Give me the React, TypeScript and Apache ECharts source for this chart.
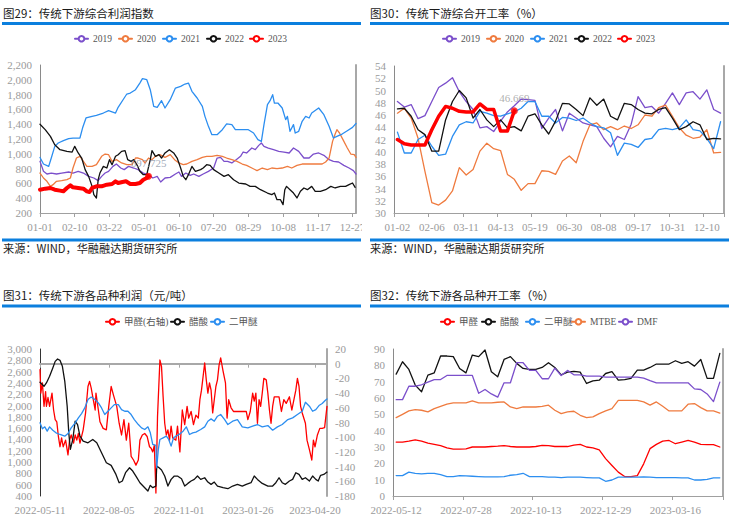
import React, { useEffect, useRef } from "react";
import * as echarts from "echarts";

// ---------------- colours / fonts ----------------
const PURPLE = "#7B4FCB";
const ORANGE = "#EF7B3F";
const BLUE = "#2C8EF0";
const BLACK = "#111111";
const RED = "#FF0000";
const RULE_BLUE = "#0B7FDE";
const LABEL_GRAY = "#9a9a9a";
const FONT_SERIF = "'Liberation Serif', 'Noto Sans CJK SC', serif";
const FONT_SANS = "'Noto Sans CJK SC', 'Noto Sans', sans-serif";

// ---------------- panel 1: 传统下游综合利润指数 (day-of-year, value) ----------------
const YEARS = ["2019", "2020", "2021", "2022", "2023"];
const P1_2019: [number, number][] = [[0,898],[4,763],[8,727],[13,740],[19,727],[25,740],[33,754],[38,740],[44,763],[50,740],[56,695],[62,673],[67,637],[71,695],[75,740],[79,763],[84,830],[88,862],[93,808],[97,786],[102,830],[108,808],[113,786],[119,740],[125,718],[130,673],[135,695],[139,619],[144,673],[150,682],[156,727],[160,754],[163,695],[168,740],[173,709],[177,727],[183,695],[188,727],[194,763],[200,808],[204,943],[208,952],[212,898],[216,898],[221,876],[226,921],[231,966],[234,1024],[238,1011],[244,1078],[248,1056],[252,1114],[255,1146],[258,1101],[263,1078],[269,1056],[275,1033],[281,1024],[287,1011],[292,1078],[298,1033],[304,943],[310,943],[315,997],[321,1011],[327,979],[333,921],[338,898],[344,889],[350,844],[356,808],[361,772],[364,727]];
const P1_2020: [number, number][] = [[0,740],[4,673],[8,628],[12,560],[15,583],[19,628],[25,637],[31,650],[35,673],[38,808],[42,943],[46,966],[50,898],[54,830],[60,830],[65,853],[71,966],[75,997],[79,988],[83,898],[88,921],[94,876],[100,853],[106,853],[110,943],[113,943],[118,921],[121,876],[125,943],[129,921],[133,966],[138,988],[144,952],[150,988],[155,921],[160,876],[165,853],[169,862],[175,898],[181,921],[187,952],[192,966],[198,966],[204,979],[210,966],[215,943],[221,921],[227,898],[233,862],[238,844],[244,808],[250,772],[256,808],[262,786],[267,808],[273,799],[279,808],[285,830],[290,808],[296,844],[302,862],[308,862],[313,862],[319,862],[325,862],[329,889],[333,943],[337,1168],[340,1267],[342,1326],[345,1281],[349,1191],[354,1078],[358,997],[362,988],[364,952]];
const P1_2021: [number, number][] = [[0,950],[4,862],[10,830],[13,943],[17,1100],[21,1146],[27,1177],[33,1204],[38,1213],[46,1213],[49,1348],[53,1484],[60,1506],[65,1520],[73,1551],[79,1583],[87,1551],[90,1628],[97,1754],[100,1808],[104,1821],[110,1866],[115,1956],[118,2015],[123,2001],[127,1866],[131,1641],[135,1628],[140,1718],[144,1619],[150,1731],[156,1889],[162,1911],[167,1943],[171,1956],[175,1844],[181,1754],[187,1641],[190,1506],[194,1371],[198,1258],[204,1258],[210,1326],[215,1403],[221,1394],[225,1326],[233,1326],[240,1326],[246,1281],[251,1191],[255,1168],[258,1394],[262,1664],[265,1718],[268,1799],[270,1686],[274,1686],[279,1619],[283,1461],[285,1506],[288,1304],[292,1394],[294,1281],[298,1304],[302,1439],[306,1506],[310,1484],[313,1551],[321,1619],[327,1529],[333,1371],[338,1213],[342,1236],[348,1267],[354,1312],[360,1357],[364,1410]];
const P1_2022: [number, number][] = [[0,1400],[6,1326],[12,1236],[17,1123],[23,1056],[31,1033],[37,1024],[40,1101],[44,1011],[48,943],[52,786],[56,695],[60,560],[62,448],[65,403],[67,650],[69,740],[73,830],[77,808],[80,921],[83,853],[87,966],[90,988],[94,1033],[98,1042],[101,921],[105,898],[108,921],[112,844],[115,763],[119,718],[123,718],[127,921],[129,1042],[133,966],[137,988],[140,943],[144,1011],[149,1056],[154,1011],[158,943],[162,808],[165,695],[168,650],[171,718],[175,830],[179,763],[185,786],[188,808],[192,853],[196,844],[200,786],[206,740],[212,695],[217,718],[223,650],[229,605],[237,592],[242,560],[248,560],[254,515],[262,470],[267,448],[270,470],[273,380],[277,380],[280,313],[282,515],[284,560],[288,515],[292,470],[296,403],[300,493],[304,538],[308,515],[313,560],[317,493],[323,493],[329,515],[335,560],[340,538],[346,560],[352,560],[356,583],[360,605],[363,547]];
const P1_2023: [number, number][] = [[0,515],[6,529],[12,538],[17,515],[23,502],[27,493],[31,538],[35,574],[38,547],[44,538],[50,529],[54,493],[57,484],[60,538],[65,560],[71,560],[77,583],[83,592],[87,628],[90,605],[95,619],[99,628],[104,592],[110,592],[115,605],[119,650],[123,673],[125,697.725]];

// ---------------- panel 2: 传统下游综合开工率 (weekly) ----------------
const P2_WEEKS = ["01-02","01-09","01-16","01-23","01-30","02-06","02-13","02-20","02-27","03-04","03-11","03-18","03-25","04-01","04-08","04-13","04-20","04-27","05-06","05-12","05-19","05-26","06-02","06-09","06-16","06-30","07-07","07-14","07-21","07-28","08-08","08-15","08-22","08-29","09-05","09-17","09-24","10-01","10-15","10-24","10-31","11-07","11-14","11-21","11-28","12-10","12-17","12-24"];
const P2_2019 = [48.2,47.3,47.7,45.4,45.9,48.2,50.5,51.2,52.1,49.8,48.2,46.9,43.9,44.1,43.3,45.0,46.5,47.5,48.6,48.5,48.4,43.8,45.5,46.9,43.4,46.3,45.5,44.7,44.4,44.1,42.2,40.8,42.5,42.0,44.5,49.0,47.2,47.4,46.3,47.9,49.6,47.7,49.6,49.8,48.6,50.1,46.9,46.3];
const P2_2020 = [46.3,47.1,45.5,42.2,36.8,31.7,31.3,32.1,33.6,37.4,36.2,37.1,40.1,41.4,40.5,40.2,36.3,35.5,33.7,34.8,34.8,36.9,36.8,36.3,38.5,39.3,38.2,41.7,44.4,44.7,43.6,44.1,43.6,44.2,43.8,44.4,46.0,45.8,47.2,47.6,45.8,43.9,42.7,42.2,42.4,43.6,39.8,39.9];
const P2_2021 = [43.2,39.8,39.8,42.0,42.7,40.9,39.4,39.6,42.5,44.4,44.9,44.7,46.6,46.3,45.9,45.8,46.2,46.5,47.1,48.2,48.2,45.8,45.8,44.7,45.6,45.5,45.1,45.5,44.7,44.1,43.9,43.1,39.4,41.4,41.2,40.7,42.0,42.2,43.6,43.8,43.6,43.9,45.2,43.6,43.4,42.2,40.5,44.9];
const P2_2022 = [47.0,47.1,45.8,43.6,42.8,40.1,40.1,45.2,48.2,50.0,48.8,45.5,46.9,45.2,44.1,45.2,43.9,44.1,43.4,45.8,46.2,44.4,42.9,45.0,47.9,47.8,46.9,45.9,48.8,47.6,48.6,45.8,45.2,47.9,47.7,46.9,46.3,46.2,46.9,47.2,45.5,43.6,44.1,44.9,44.4,42.0,42.2,42.1];
const P2_2023 = [42.0,41.3,41.1,41.1,41.1,43.6,45.8,47.4,47.1,46.6,46.5,46.5,47.8,46.9,46.9,43.4,43.4,46.669];

// ---------------- panel 3: 传统下游各品种利润 (day index from 2022-05-11) ----------------
const P3_TICK_LABELS = ["2022-05-11","2022-08-05","2022-11-01","2023-01-26","2023-04-20"];
const P3_HCHO: [number, number][] = [[0,-8],[1,-40],[3,-26],[5,-58],[7,-38],[8,-58],[10,-46],[12,-58],[15,-40],[17,-63],[19,-76],[21,-79],[23,-99],[25,-113],[27,-101],[29,-113],[32,-104],[35,-124],[37,-104],[39,-97],[42,-108],[44,-97],[46,-104],[48,-95],[50,-108],[54,-90],[57,-67],[60,-31],[62,-24],[64,-33],[66,-45],[69,-63],[70,-40],[73,-63],[75,-79],[79,-88],[83,-90],[86,-58],[89,-31],[92,-43],[96,-58],[99,-81],[102,-97],[105,-76],[108,-104],[111,-81],[114,-126],[117,-131],[120,-138],[123,-131],[125,-104],[128,-97],[131,-95],[134,-99],[137,-113],[139,-115],[141,-120],[143,-111],[145,-176],[147,-72],[150,5],[152,-4],[154,-45],[156,-81],[158,-97],[160,-90],[162,-104],[164,-85],[166,-101],[170,-104],[172,-85],[175,-120],[178,-63],[181,-83],[184,-58],[186,-74],[189,-65],[192,-83],[195,-70],[198,-74],[200,-49],[202,-36],[206,1],[208,-22],[210,-40],[212,-26],[214,-36],[216,-67],[218,-49],[220,-31],[222,-22],[224,-2],[226,8],[229,-10],[232,-26],[234,-74],[236,-49],[239,-60],[242,-65],[245,-65],[249,-65],[253,-65],[258,-65],[260,-76],[263,-65],[266,-40],[268,-51],[270,-40],[272,-81],[274,-49],[276,-58],[278,-40],[280,-20],[283,-22],[285,-40],[287,-63],[289,-81],[291,-58],[293,-45],[295,-45],[299,-45],[302,-65],[305,-49],[308,-54],[312,-45],[315,-63],[318,-47],[320,-36],[322,-20],[324,-31],[326,-58],[328,-67],[332,-81],[334,-104],[337,-117],[340,-131],[342,-104],[344,-113],[347,-97],[350,-88],[353,-88],[356,-87],[359,-58]];
const P3_ACOH: [number, number][] = [[0,2411],[5,2340],[8,2399],[12,2517],[16,2664],[19,2781],[22,2823],[25,2799],[28,2693],[31,2429],[34,1988],[36,1517],[38,1223],[41,1400],[44,1723],[47,1664],[50,1458],[54,1370],[60,1341],[66,1400],[71,1341],[77,1164],[83,988],[89,941],[95,782],[99,635],[103,665],[107,812],[112,900],[116,841],[120,753],[125,635],[131,547],[135,488],[138,588],[141,547],[145,576],[146,929],[149,900],[152,859],[156,753],[160,576],[164,694],[168,753],[172,753],[177,706],[181,576],[185,623],[189,665],[193,694],[197,753],[201,694],[206,723],[210,647],[214,606],[218,647],[222,576],[229,547],[235,529],[241,576],[247,606],[253,576],[258,606],[264,635],[268,753],[272,694],[278,623],[285,576],[291,576],[295,635],[299,723],[303,635],[307,606],[312,665],[316,694],[320,812],[324,782],[328,694],[332,723],[337,665],[341,753],[345,694],[348,665],[351,765],[355,782],[359,823]];
const P3_DME: [number, number][] = [[0,1694],[3,1588],[6,1623],[9,1547],[12,1623],[16,1564],[20,1517],[25,1488],[31,1458],[35,1505],[39,1605],[44,1694],[48,1782],[52,1858],[56,1958],[60,2105],[64,2150],[69,2105],[73,2046],[77,1958],[81,1841],[85,1899],[89,1958],[93,2017],[98,2017],[102,1929],[106,1899],[110,1899],[114,1841],[118,1752],[123,1664],[127,1605],[131,1576],[135,1623],[138,1517],[141,1311],[145,1294],[146,900],[148,1223],[150,1400],[154,1429],[158,1458],[161,1400],[164,1282],[167,1429],[170,1458],[174,1488],[179,1547],[183,1623],[187,1488],[191,1517],[195,1529],[201,1576],[206,1623],[210,1723],[214,1764],[218,1723],[222,1811],[226,1841],[231,1752],[235,1664],[241,1723],[247,1752],[253,1623],[260,1605],[266,1635],[272,1664],[278,1623],[285,1646],[291,1564],[297,1623],[303,1664],[310,1752],[316,1782],[322,1841],[328,1899],[332,2058],[337,1988],[341,1899],[345,1929],[349,2000],[353,2035],[357,2093],[359,2117]];

// ---------------- panel 4: 传统下游各品种开工率 (weekly from 2022-05-12) ----------------
const P4_HCHO = [33.0,33.0,33.6,34.4,33.6,32.4,31.6,30.8,29.5,28.7,28.7,28.9,30.0,30.0,30.0,30.3,30.5,30.8,30.3,30.0,30.0,30.0,30.3,31.0,30.8,30.3,30.3,30.3,31.2,31.6,30.0,29.5,28.3,22.9,18.7,14.6,11.9,11.9,12.5,19.7,29.0,31.6,33.6,34.0,32.0,33.0,34.0,33.0,31.6,31.4,31.4,30.0];
const P4_ACOH = [74.6,82.2,77.5,67.9,63.8,74.0,75.4,85.7,85.7,85.3,78.1,75.4,86.3,85.3,89.4,76.1,73.0,83.6,85.3,81.2,78.1,77.5,77.5,78.7,81.6,78.7,74.2,75.8,76.3,75.8,68.9,70.5,70.9,75.0,76.1,70.9,71.3,72.0,77.1,77.1,78.7,80.8,80.8,80.8,82.8,81.2,82.2,79.5,83.6,72.0,72.0,87.3];
const P4_DME = [12.5,12.5,14.6,13.9,13.5,13.9,13.9,13.1,11.9,11.9,12.5,12.3,12.1,11.9,11.7,11.7,11.7,11.9,12.7,13.1,13.9,11.9,11.9,11.9,11.5,11.5,11.3,11.5,11.5,11.5,11.3,11.1,11.1,9.0,9.8,11.5,11.5,11.5,11.5,11.7,11.5,11.3,11.3,11.3,11.3,11.1,11.1,9.8,9.8,10.2,11.1,11.1];
const P4_MTBE = [48.0,50.0,52.1,52.9,52.5,51.5,53.5,54.9,56.2,57.0,57.0,57.0,58.2,57.0,57.0,57.0,57.4,57.6,54.5,53.5,54.5,54.5,54.5,54.9,55.6,52.5,50.4,51.5,51.9,49.4,48.0,48.4,50.4,52.1,53.5,58.6,58.6,58.6,58.6,57.6,55.6,57.6,54.9,52.1,52.1,52.1,56.2,56.6,54.1,52.1,52.1,50.8];
const P4_DMF = [59.0,59.0,67.2,67.2,68.1,69.7,71.3,71.3,73.8,73.8,73.8,73.8,73.8,62.9,65.2,62.5,60.5,69.3,69.3,81.6,81.6,76.9,76.9,71.8,71.8,78.3,73.8,76.9,74.2,74.2,73.4,73.4,73.4,72.8,72.8,72.8,72.8,72.8,72.8,72.2,70.7,69.3,69.3,69.3,69.3,69.3,69.3,65.6,65.2,62.5,57.8,69.7];

// legend entries: name and where its icon starts
const LEG1 = YEARS;
const LEG1_X = [74, 118, 162, 206, 249];
const LEG2_X = [442, 486, 530, 574, 617];
const LEG3 = ["甲醛(右轴)", "醋酸", "二甲醚"];
const LEG3_X = [105, 170, 210];
const LEG4 = ["甲醛", "醋酸", "二甲醚", "MTBE", "DMF"];
const LEG4_X = [440, 481, 525, 571, 618];

// ---------------- helpers ----------------
const pad = (n: number) => (n < 10 ? "0" + n : "" + n);
function dateList(y: number, m: number, d: number, count: number, step: number, withYear: boolean) {
  const out: string[] = [];
  const t = new Date(Date.UTC(y, m - 1, d));
  for (let i = 0; i < count; i++) {
    out.push((withYear ? t.getUTCFullYear() + "-" : "") + pad(t.getUTCMonth() + 1) + "-" + pad(t.getUTCDate()));
    t.setUTCDate(t.getUTCDate() + step);
  }
  return out;
}
const P1_DAYS = dateList(2021, 1, 1, 365, 1, false);
const P3_DAYS = dateList(2022, 5, 11, 360, 1, true);
const P4_WEEKS = dateList(2022, 5, 12, 52, 7, true);

const thousands = (v: number) => v.toLocaleString("en-US");

function line(name: string, data: any[], color: string, xi: number, yi: number, width = 1.3, z = 2) {
  return {
    type: "line", name, data, xAxisIndex: xi, yAxisIndex: yi,
    symbol: "emptyCircle", symbolSize: 5, showSymbol: false,
    lineStyle: { color, width, cap: "round", join: "round" }, itemStyle: { color },
    emphasis: { disabled: true }, z, animation: false,
  };
}
function endPoint(point: [number, number], xi: number, yi: number, labelColor: string) {
  return {
    type: "scatter", data: [point], xAxisIndex: xi, yAxisIndex: yi, symbolSize: 7, z: 6,
    itemStyle: { color: RED }, emphasis: { disabled: true }, animation: false,
    label: { show: true, position: "top", distance: 4, color: labelColor, fontSize: 11, fontFamily: FONT_SERIF,
      formatter: (p: any) => String(p.value[1]) },
  };
}
const axisLabel = (extra: any = {}) => ({ color: LABEL_GRAY, fontSize: 11, fontFamily: FONT_SERIF, margin: 8, ...extra });
function leftY(gi: number, min: number, max: number, interval: number, lineColor: string, fmt?: (v: number) => string) {
  return {
    type: "value", gridIndex: gi, position: "left", min, max, interval,
    axisLine: { show: true, lineStyle: { color: lineColor, width: 1 } },
    axisTick: { show: false }, splitLine: { show: false },
    axisLabel: axisLabel(fmt ? { formatter: fmt } : {}),
  };
}
function rightBorder(gi: number, min: number, max: number) {
  return {
    type: "value", gridIndex: gi, position: "right", min, max,
    axisLine: { show: true, lineStyle: { color: "#a8a8a8", width: 2 } },
    axisTick: { show: false }, splitLine: { show: false }, axisLabel: { show: false },
  };
}
function legendItems(names: string[], xs: number[], top: number) {
  return names.map((n, i) => ({
    data: [n], left: xs[i], top, orient: "horizontal", itemWidth: 13, itemHeight: 7, padding: 0,
    selectedMode: false, textStyle: { fontSize: 9.5, color: "#555", fontFamily: FONT_SERIF },
    lineStyle: { width: 2 },
  }));
}
const txt = (text: string, x: number, y: number, size: number, color = "#1a1a1a") => ({
  type: "text", x, y, z: 50,
  style: { text, fill: color, font: `normal ${size}px ${FONT_SANS}`, verticalAlign: "middle", align: "left" },
});
const rule = (x: number, y: number, w: number) => ({
  type: "rect", z: 50, shape: { x, y, width: w, height: 3 }, style: { fill: RULE_BLUE },
});

export default function App() {
  const ref = useRef<HTMLDivElement>(null);
  useEffect(() => {
    if (!ref.current) return;
    const chart = echarts.init(ref.current, undefined, { renderer: "svg" });
    const p3Interval = (_i: number, v: string) => P3_TICK_LABELS.indexOf(v) >= 0;
    const option: any = {
      animation: false,
      backgroundColor: "#ffffff",
      textStyle: { fontFamily: FONT_SERIF },
      grid: [
        { left: 40, top: 65, width: 316, height: 148, outerBoundsMode: "none" },
        { left: 394, top: 66, width: 330, height: 147, outerBoundsMode: "none" },
        { left: 40, top: 349, width: 287, height: 147, outerBoundsMode: "none" },
        { left: 393, top: 349, width: 330, height: 147, outerBoundsMode: "none" },
      ],
      xAxis: [
        { type: "category", gridIndex: 0, data: P1_DAYS, boundaryGap: false, position: "bottom",
          axisLine: { show: true, onZero: false, lineStyle: { color: "#a0a0a0", width: 1 } },
          axisTick: { show: true, interval: 39, length: 4, lineStyle: { color: "#a0a0a0" } },
          axisLabel: axisLabel({ interval: 39 }), splitLine: { show: false } },
        { type: "category", gridIndex: 1, data: P2_WEEKS, boundaryGap: true, position: "bottom",
          axisLine: { show: true, onZero: false, lineStyle: { color: "#a0a0a0", width: 1 } },
          axisTick: { show: true, interval: 4, length: 4, lineStyle: { color: "#a0a0a0" } },
          axisLabel: axisLabel({ interval: 4 }), splitLine: { show: false } },
        { type: "category", gridIndex: 2, data: P3_DAYS, boundaryGap: false, position: "bottom",
          axisLine: { show: false, onZero: false }, axisTick: { show: false },
          axisLabel: axisLabel({ interval: p3Interval }), splitLine: { show: false } },
        { type: "category", gridIndex: 2, data: P3_DAYS, boundaryGap: false, position: "bottom",
          axisLine: { show: true, onZero: true, onZeroAxisIndex: 5, lineStyle: { color: "#a8a8a8", width: 2 } },
          axisTick: { show: true, interval: p3Interval, length: 4, lineStyle: { color: "#a8a8a8" } },
          axisLabel: { show: false }, splitLine: { show: false } },
        { type: "category", gridIndex: 3, data: P4_WEEKS, boundaryGap: true, position: "bottom",
          axisLine: { show: true, onZero: false, lineStyle: { color: "#a0a0a0", width: 1 } },
          axisTick: { show: true, interval: 10, length: 4, lineStyle: { color: "#a0a0a0" } },
          axisLabel: axisLabel({ interval: 10 }), splitLine: { show: false } },
      ],
      yAxis: [
        leftY(0, 200, 2200, 200, "#8a8a8a", thousands),
        rightBorder(0, 200, 2200),
        leftY(1, 30, 54, 2, "#8a8a8a"),
        rightBorder(1, 30, 54),
        leftY(2, 400, 3000, 200, "#333333", thousands),
        { type: "value", gridIndex: 2, position: "right", min: -180, max: 20, interval: 20,
          axisLine: { show: true, lineStyle: { color: "#a8a8a8", width: 2 } },
          axisTick: { show: false }, splitLine: { show: false }, axisLabel: axisLabel() },
        leftY(3, 0, 90, 10, "#8a8a8a"),
        rightBorder(3, 0, 90),
      ],
      legend: [
        ...legendItems(LEG1, LEG1_X, 34),
        ...legendItems(YEARS, LEG2_X, 34),
        ...legendItems(LEG3, LEG3_X, 317),
        ...legendItems(LEG4, LEG4_X, 317),
      ],
      series: [
        line("2019", P1_2019, PURPLE, 0, 0),
        line("2020", P1_2020, ORANGE, 0, 0),
        line("2021", P1_2021, BLUE, 0, 0),
        line("2022", P1_2022, BLACK, 0, 0),
        line("2023", P1_2023, RED, 0, 0, 4, 4),
        endPoint(P1_2023[P1_2023.length - 1], 0, 0, "#8a94a6"),

        line("2019", P2_2019, PURPLE, 1, 2),
        line("2020", P2_2020, ORANGE, 1, 2),
        line("2021", P2_2021, BLUE, 1, 2),
        line("2022", P2_2022, BLACK, 1, 2),
        line("2023", P2_2023, RED, 1, 2, 3.5, 4),
        endPoint([P2_2023.length - 1, P2_2023[P2_2023.length - 1]], 1, 2, "#9a9a9a"),

        line("甲醛(右轴)", P3_HCHO, RED, 2, 5),
        line("醋酸", P3_ACOH, BLACK, 2, 4),
        line("二甲醚", P3_DME, BLUE, 2, 4),

        line("甲醛", P4_HCHO, RED, 4, 6),
        line("醋酸", P4_ACOH, BLACK, 4, 6),
        line("二甲醚", P4_DME, BLUE, 4, 6),
        line("MTBE", P4_MTBE, ORANGE, 4, 6),
        line("DMF", P4_DMF, PURPLE, 4, 6),
      ],
      graphic: [
        txt("图29：传统下游综合利润指数", 3, 13, 11.5),
        rule(2, 22, 359),
        rule(2, 238.5, 359),
        txt("来源：WIND，华融融达期货研究所", 3, 248, 11.2),
        txt("图30：传统下游综合开工率（%）", 370, 13, 11.5),
        rule(370, 22, 359),
        rule(370, 238.5, 359),
        txt("来源：WIND，华融融达期货研究所", 370, 248, 11.2),
        txt("图31：传统下游各品种利润（元/吨）", 3, 295, 11.5),
        rule(2, 304.5, 359),
        txt("图32：传统下游各品种开工率（%）", 370, 295, 11.5),
        rule(370, 304.5, 359),
        { type: "rect", z: 100, shape: { x: 362, y: 219, width: 7, height: 16 }, style: { fill: "#ffffff" } },
      ],
    };
    chart.setOption(option);
    return () => chart.dispose();
  }, []);
  return (
    <div
      ref={ref}
      style={{ position: "fixed", left: 0, top: 0, width: 736, height: 519, background: "#fff" }}
    />
  );
}
